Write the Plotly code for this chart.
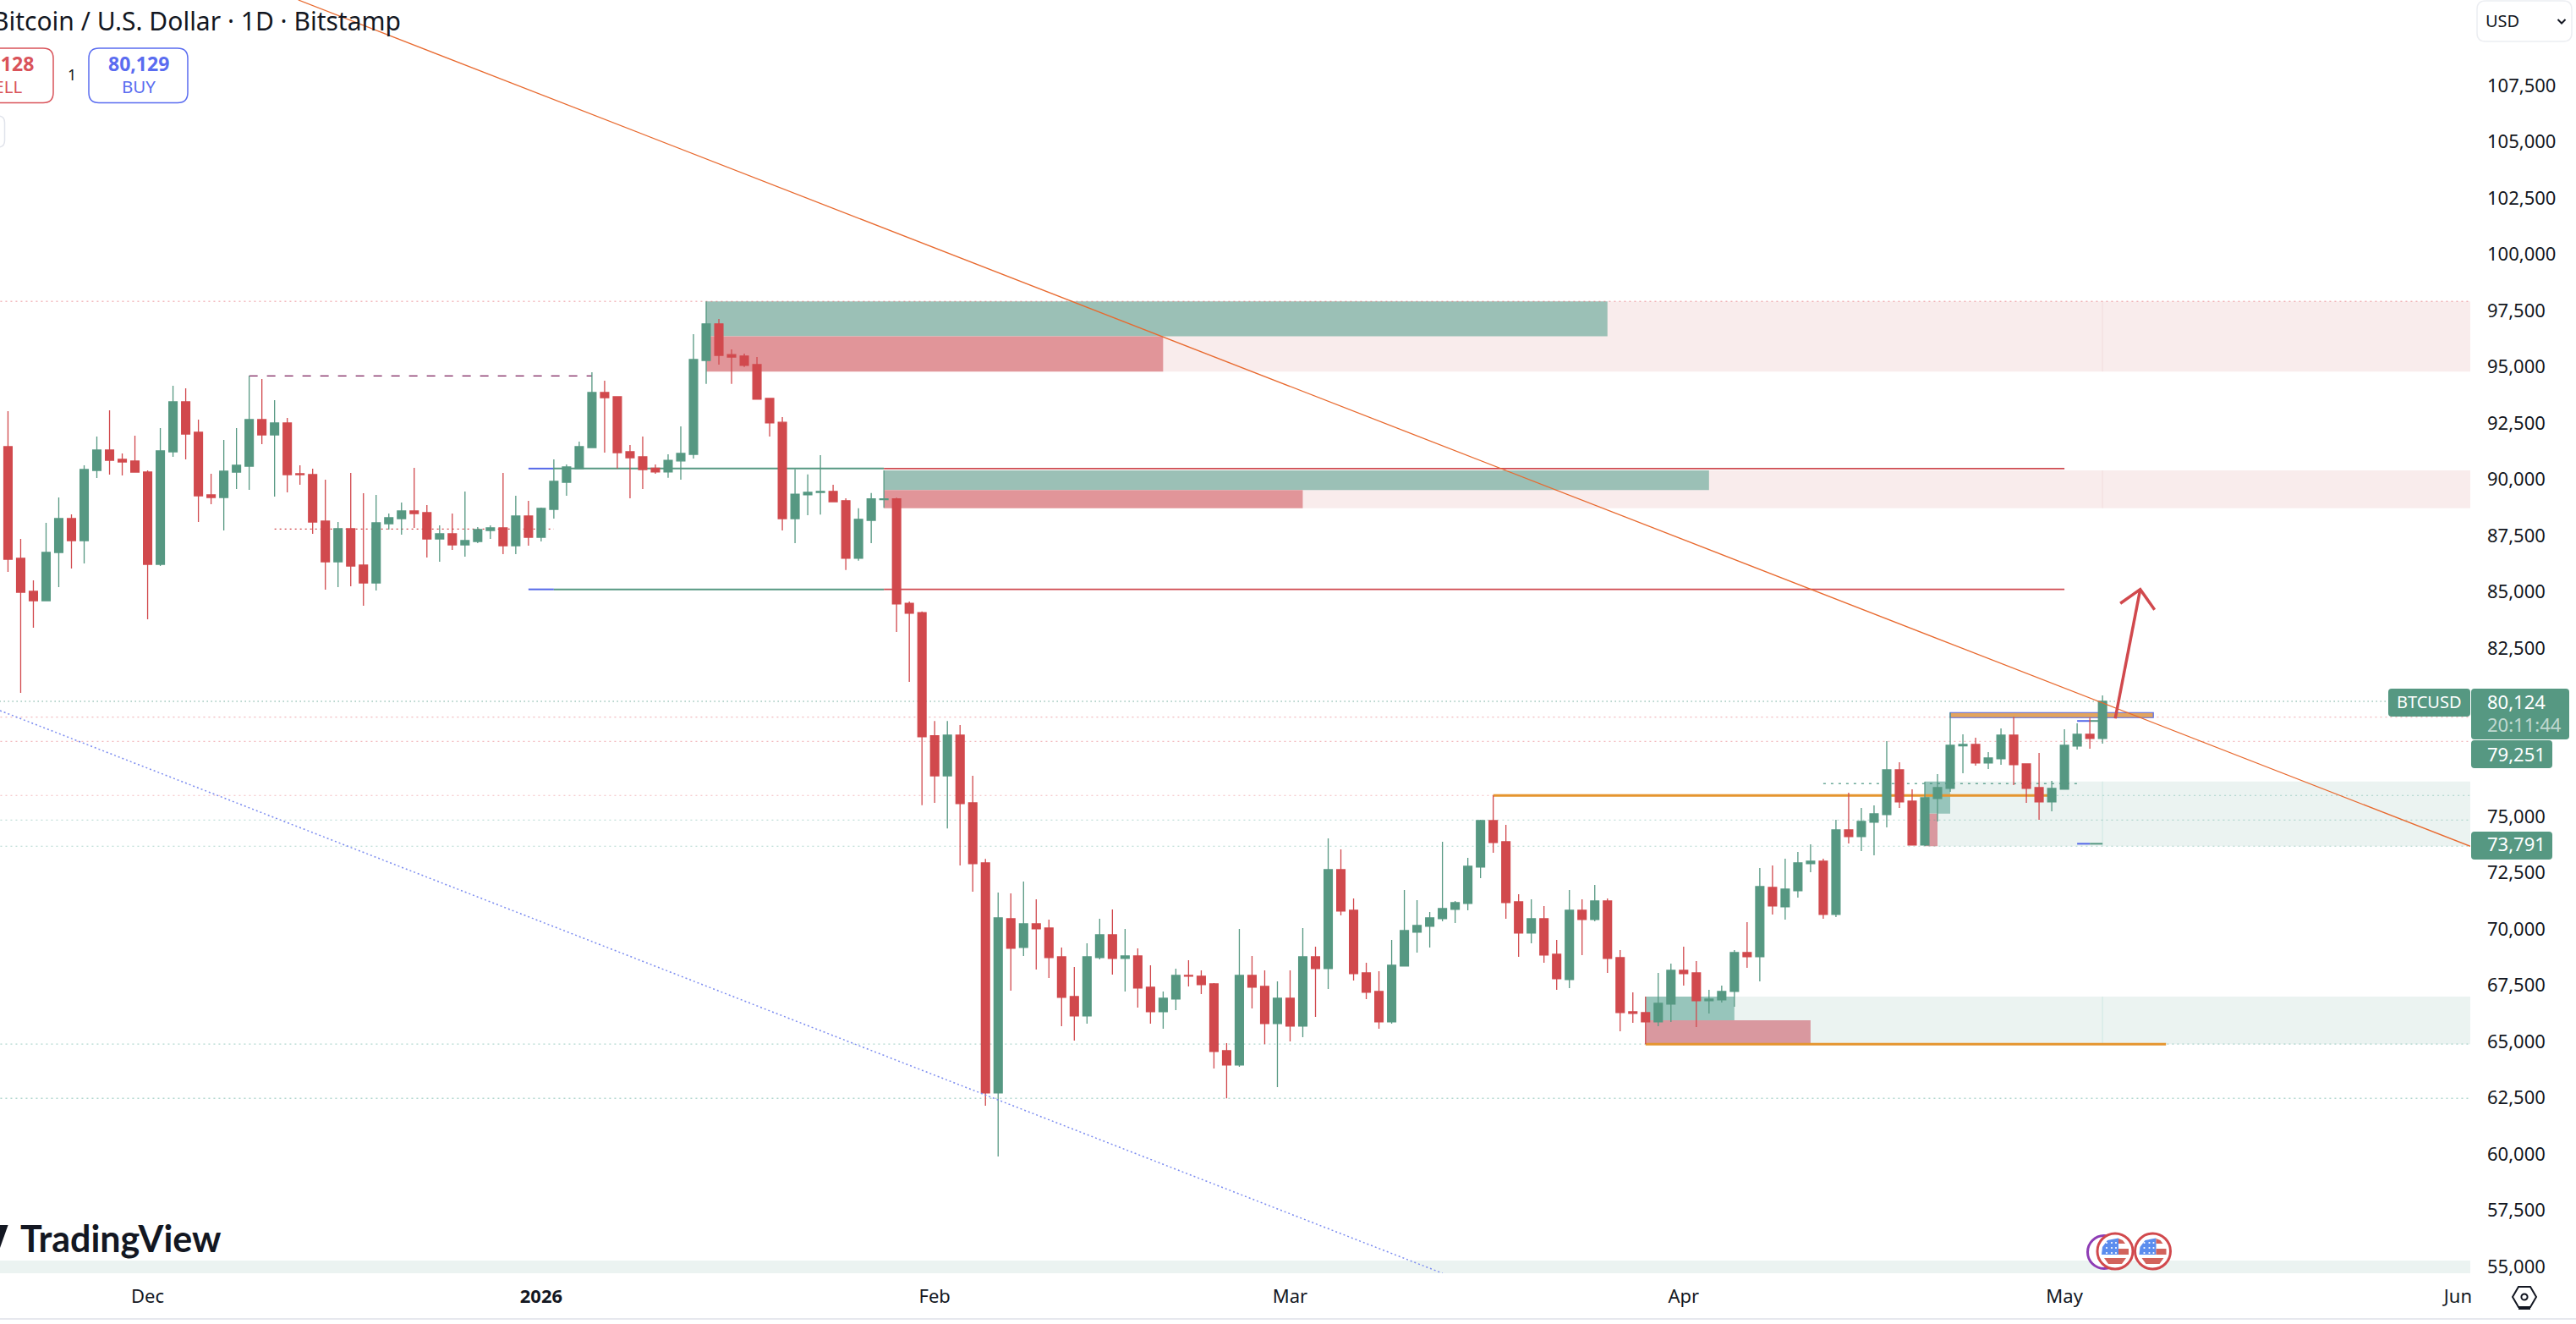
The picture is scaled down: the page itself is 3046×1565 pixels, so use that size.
import pandas as pd
import plotly.graph_objects as go

# Daily BTC/USD candles, first session 2025-11-20
first_session = "2025-11-20"
opens = [
    91447, 86482, 85014, 84601, 86745, 88250, 87272, 90394, 91297, 90883,
    90808, 90319, 86218, 91222, 93441, 92087, 89303, 89190, 90319, 90582,
    92651, 91974, 92501, 90244, 90206, 88137, 86331, 87798, 86181, 85391,
    88024, 88250, 88588, 88513, 87347, 87573, 87084, 87234, 87723, 87836,
    87046, 88363, 87422, 88664, 89867, 90469, 91410, 93855, 93667, 91222,
    90996, 90491, 90322, 90813, 91105, 95281, 96909, 95542, 95481, 95097,
    93592, 92533, 88249, 89308, 89416, 89462, 89047, 86483, 88172, 89093,
    89124, 84487, 84073, 78591, 76810, 78622, 75613, 72941, 62709, 70458,
    69179, 70233, 70044, 68766, 66998, 66132, 68728, 69744, 68690, 68803,
    67411, 66320, 66885, 67938, 67900, 67562, 64590, 63951, 67938, 67449,
    65794, 66922, 65681, 68766, 68239, 72640, 70834, 68051, 67223, 65869,
    68352, 69856, 70120, 70458, 70872, 71135, 72753, 74822, 73881, 71211,
    69819, 70458, 68878, 67750, 70834, 70421, 71248, 68728, 66320, 66283,
    65869, 66659, 68164, 68051, 66809, 66847, 67223, 68954, 68765, 71850,
    70985, 71700, 72903, 73016, 70646, 74408, 74107, 74747, 75085, 77079,
    75687, 73731, 75800, 76251, 78145, 78207, 77380, 77568, 78621, 77342,
    76289, 75649, 76214, 78132, 78659, 78471,
]
highs = [
    93027, 87347, 85503, 88062, 89190, 88438, 90620, 91899, 93065, 91146,
    91936, 90394, 92275, 94156, 94043, 92651, 90244, 91748, 92275, 94595,
    94457, 93517, 92727, 90620, 90469, 89980, 88099, 90281, 89378, 89303,
    88475, 88965, 90507, 88852, 87949, 88475, 89454, 87874, 87949, 90281,
    89265, 89040, 88739, 90883, 90657, 91673, 94758, 94382, 93667, 91523,
    91899, 90659, 91105, 92348, 96448, 97908, 97129, 95772, 95588, 95435,
    93592, 92763, 90444, 90214, 91074, 89754, 89155, 88709, 89385, 90398,
    89185, 84564, 84119, 79251, 79251, 79067, 76810, 73117, 71624, 71587,
    72113, 71323, 70421, 69179, 68314, 69367, 70458, 70872, 70007, 69142,
    68389, 67223, 68239, 68615, 68164, 67599, 64929, 70007, 68803, 68164,
    67675, 68164, 70045, 69217, 74032, 73543, 71361, 68502, 68126, 69518,
    71737, 71286, 70759, 73881, 71248, 73167, 74860, 75939, 74634, 71549,
    71323, 71023, 69518, 71737, 71323, 71963, 71361, 69066, 67186, 66997,
    68051, 68465, 69217, 68577, 67298, 67486, 69066, 70308, 72715, 72828,
    73129, 73430, 73769, 73129, 74859, 76063, 75386, 75499, 78357, 77418,
    76214, 76552, 76891, 79624, 78659, 78508, 77869, 78922, 79424, 77342,
    77831, 76590, 78884, 79148, 79399, 80389,
]
lows = [
    85880, 80500, 83397, 84601, 85203, 86030, 86256, 90055, 90206, 90168,
    90319, 83773, 86143, 90996, 90883, 88099, 88889, 87723, 89566, 89529,
    91560, 89228, 89416, 89755, 87573, 85090, 85203, 85240, 84375, 85052,
    87761, 87535, 87836, 86519, 86331, 86858, 86557, 87159, 87347, 86670,
    86670, 87046, 87234, 88250, 89265, 90469, 91410, 91184, 90469, 89153,
    89566, 90245, 90061, 89984, 90920, 94237, 95097, 94237, 94989, 93561,
    91903, 87727, 87159, 88402, 88433, 89001, 85961, 86376, 87159, 88725,
    83213, 80986, 75505, 75613, 74476, 72828, 71662, 62145, 59888, 67261,
    68803, 68201, 67825, 65681, 65041, 65794, 68653, 67976, 67223, 66508,
    65794, 65568, 66396, 67449, 67110, 63800, 62471, 63875, 66471, 64878,
    62972, 65004, 65192, 66095, 67336, 70609, 67712, 66885, 65568, 65794,
    68352, 68954, 69179, 70345, 70270, 70834, 72264, 73392, 70458, 68766,
    69367, 68502, 67298, 67374, 68841, 70345, 68051, 65455, 65831, 64878,
    65681, 65869, 67486, 65643, 66245, 66734, 66546, 68276, 67675, 70646,
    70421, 71399, 72527, 70455, 70534, 73806, 73468, 73280, 74521, 75386,
    73731, 73693, 74784, 76101, 76928, 77267, 77116, 77304, 76402, 75612,
    74859, 75236, 76214, 77982, 78019, 78245,
]
closes = [
    86444, 84977, 84601, 86745, 88250, 87272, 90432, 91297, 90846, 90770,
    90319, 86218, 91259, 93441, 92012, 89265, 89190, 90356, 90620, 92651,
    91974, 92501, 90206, 90206, 88099, 86331, 87798, 86143, 85391, 88062,
    88287, 88588, 88475, 87347, 87573, 87084, 87272, 87761, 87836, 87046,
    88363, 87422, 88701, 89905, 90545, 91447, 93855, 93629, 91184, 90958,
    90432, 90322, 90844, 91151, 95327, 96909, 95511, 95435, 95066, 93561,
    92502, 88249, 89339, 89416, 89462, 89001, 86483, 88218, 89124, 89124,
    84456, 84042, 78545, 76810, 78622, 75582, 72903, 62709, 70496, 69142,
    70233, 70007, 68728, 66960, 66132, 68766, 69744, 68690, 68803, 67374,
    66320, 66922, 67938, 67900, 67524, 64552, 63951, 67938, 67411, 65794,
    66922, 65681, 68766, 68239, 72640, 70797, 68013, 67186, 65869, 68389,
    69932, 70157, 70496, 70910, 71173, 72791, 74822, 73844, 71173, 69819,
    70458, 68841, 67788, 70834, 70421, 71248, 68690, 66283, 66245, 65869,
    66697, 68164, 68013, 66809, 66885, 67223, 68954, 68765, 71888, 71023,
    71775, 72941, 73016, 70646, 74408, 74107, 74784, 75123, 77079, 75649,
    73731, 75838, 76289, 78170, 78207, 77380, 77605, 78621, 77304, 76251,
    75649, 76251, 78170, 78659, 78471, 80124,
]

# Axis labels; the two levels covered by the price tags are left out
price_ticks = [55000, 57500, 60000, 62500, 65000, 67500, 70000, 72500, 75000,
               82500, 85000, 87500, 90000, 92500, 95000, 97500, 100000, 102500, 105000, 107500]
month_ticks = ["2025-12-01", "2026-01-01", "2026-02-01", "2026-03-01", "2026-04-01", "2026-05-01", "2026-06-01"]
month_labels = ["Dec", "<b>2026</b>", "Feb", "Mar", "Apr", "May", "Jun"]

# Supply/demand zones: start bar, end bar, upper price, lower price, fill
pale_red = "#F9ECEC"
pale_green = "#EBF3F1"
block_green = "#9BC0B6"
block_green2 = "#97C5BB"
block_red = "#E19599"
block_red2 = "#D9989F"
zones = [
    (91, 195, 97908, 94789, pale_red),
    (55, 126, 97908, 96354, block_green),
    (55, 91, 96354, 94789, block_red),
    (102, 195, 90399, 88710, pale_red),
    (69, 134, 90399, 89523, block_green),
    (69, 102, 89523, 88710, block_red),
    (136, 195, 66997, 64880, pale_green),
    (129, 136, 66997, 65944, block_green2),
    (129, 142, 65944, 64880, block_red2),
    (152, 195, 76560, 73681, pale_green),
    (151, 153, 76560, 75130, block_green2),
    (151, 152, 75130, 73681, block_red2),
    (-1, 195, 55260, 54000, pale_green),
]

# Dotted horizontal levels: price, start bar, end bar, colour, width
pink = "rgba(226,90,100,0.42)"
teal = "rgba(70,160,140,0.42)"
levels = [
    (97908, -1, 195, pink, 1.3),
    (79424, -1, 195, pink, 1.3),
    (78345, -1, 195, pink, 1.3),
    (75939, -1, 161, pink, 1),
    (75939, 161, 195, teal, 1),
    (74846, -1, 195, teal, 1),
    (73681, -1, 195, teal, 1),
    (64880, -1, 195, teal, 1.3),
    (62471, -1, 195, teal, 1.3),
]
last_price = 80124
last_price_color = "rgba(63,143,122,0.75)"

# Target lines: price, blue end bar, green end bar, red end bar
tri_lines = [(90475, 43, 69, 162), (85103, 43, 69, 162)]
tri_start = 41
short_lines = [79251, 73791]
tag_stack_shift = {79251: 39, 73791: 0}

green = "#569882"
red = "#D1494D"
orange = "#E5952F"
blue = "#5468E8"
ink = "#131722"

W, H = 3046, 1565
PLOT_W, PLOT_H = 2921, 1505
bar0 = pd.Timestamp(first_session)


def day(k):
    return bar0 + pd.Timedelta(days=k)


def X(px):
    return px / PLOT_W


def Y(py):
    return 1 - py / PLOT_H


dates = [day(i) for i in range(len(opens))]

fig = go.Figure()
fig.add_trace(go.Candlestick(
    x=dates, open=opens, high=highs, low=lows, close=closes,
    increasing=dict(line=dict(color=green, width=1.3), fillcolor=green),
    decreasing=dict(line=dict(color=red, width=1.3), fillcolor=red),
    whiskerwidth=0, showlegend=False, hoverinfo="skip",
))

# Descending trend lines and the projected move
trend_orange = ([22.87, 193.97], [111311, 73681])
trend_blue = ([-0.63, 113.0], [79712, 54693])
arrow_path = ([166.0, 167.97], [79362, 85103])
arrow_head = ([166.4, 167.97, 169.1], [84478, 85103, 84200])

fig.add_trace(go.Scatter(x=[day(k) for k in trend_blue[0]], y=trend_blue[1], mode="lines",
                         line=dict(color="#7C8CF0", width=1.5, dash="2px,3px"),
                         showlegend=False, hoverinfo="skip"))
fig.add_trace(go.Scatter(x=[day(k) for k in trend_orange[0]], y=trend_orange[1], mode="lines",
                         line=dict(color="#E8692E", width=1.3),
                         showlegend=False, hoverinfo="skip"))
for xs, ys in (arrow_path, arrow_head):
    fig.add_trace(go.Scatter(x=[day(k) for k in xs], y=ys, mode="lines",
                             line=dict(color=red, width=3.5),
                             showlegend=False, hoverinfo="skip"))

shapes = []


def data_rect(k0, k1, p0, p1, fill, **line):
    shapes.append(dict(type="rect", xref="x", yref="y", x0=day(k0), x1=day(k1), y0=p0, y1=p1,
                       fillcolor=fill, line=line or dict(width=0), layer="below"))


def data_line(k0, k1, p, color, width, dash="solid"):
    shapes.append(dict(type="line", xref="x", yref="y", x0=day(k0), x1=day(k1), y0=p, y1=p,
                       line=dict(color=color, width=width, dash=dash), layer="below"))


for k0, k1, p0, p1, fill in zones:
    data_rect(k0, k1, p0, p1, fill)

# Faint session marker through the open zones
for p0, p1, c in [(97908, 94789, "rgba(200,120,120,0.12)"), (90399, 88710, "rgba(200,120,120,0.12)"),
                  (76560, 73681, "rgba(8,153,129,0.12)"), (66997, 64880, "rgba(8,153,129,0.12)")]:
    shapes.append(dict(type="line", xref="x", yref="y", x0=day(165), x1=day(165), y0=p0, y1=p1,
                       line=dict(color=c, width=1), layer="below"))

for p, k0, k1, color, width in levels:
    data_line(k0, k1, p, color, width, "2px,4px")
data_line(-1, 195, last_price, last_price_color, 1, "1.5px,3.5px")

# Swing markers
data_line(19, 46, 94594, "#7B1E5A", 1.3, "10px,11px")
data_line(21, 43, 87788, red, 1.3, "2px,4px")
data_line(143, 163, 76466, last_price_color, 1.3, "3px,6px")

# Orange range lines
data_line(117, 161, 75939, orange, 3)
data_line(129, 170, 64880, orange, 3)

for p, k_blue, k_green, k_red in tri_lines:
    data_line(tri_start, k_blue, p, blue, 2)
    data_line(k_blue, k_green, p, green, 2)
    data_line(k_green, k_red, p, "#CF4A50", 1.8)

for p in short_lines:
    data_line(163, 164, p, blue, 2)
    data_line(164, 165, p, green, 2)

data_rect(153, 169, 79625, 79400, "#E2A45F", color=blue, width=1.2)


def round_box(x0, y0, x1, y1, r):
    xs = lambda v: f"{X(v):.6f}"
    ys = lambda v: f"{Y(v):.6f}"
    return (f"M {xs(x0 + r)} {ys(y0)} L {xs(x1 - r)} {ys(y0)} Q {xs(x1)} {ys(y0)} {xs(x1)} {ys(y0 + r)} "
            f"L {xs(x1)} {ys(y1 - r)} Q {xs(x1)} {ys(y1)} {xs(x1 - r)} {ys(y1)} "
            f"L {xs(x0 + r)} {ys(y1)} Q {xs(x0)} {ys(y1)} {xs(x0)} {ys(y1 - r)} "
            f"L {xs(x0)} {ys(y0 + r)} Q {xs(x0)} {ys(y0)} {xs(x0 + r)} {ys(y0)} Z")


def ui_path(path, fill="rgba(0,0,0,0)", color="rgba(0,0,0,0)", width=0):
    shapes.append(dict(type="path", xref="paper", yref="paper", path=path, fillcolor=fill,
                       line=dict(color=color, width=width), layer="above"))


def poly(points, close=True):
    s = " L ".join(f"{X(a):.6f} {Y(b):.6f}" for a, b in points)
    return "M " + s + (" Z" if close else "")


def ui_circle(cx, cy, r, fill, color, width):
    shapes.append(dict(type="circle", xref="paper", yref="paper",
                       x0=X(cx - r), x1=X(cx + r), y0=Y(cy - r), y1=Y(cy + r),
                       fillcolor=fill, line=dict(color=color, width=width), layer="above"))


# Order buttons
ui_path(round_box(-20, 57, 63, 121.5, 12), "white", "#D9535A", 1.5)
ui_path(round_box(105, 57, 222, 121.5, 12), "white", "#5A6CF0", 1.5)
ui_path(round_box(-20, 137, 5.5, 174, 8), "white", "#E0E3EB", 1.5)

# Currency selector
ui_path(round_box(2929, 1, 3041, 49, 10), "white", "#ECEEF2", 1.5)
ui_path(poly([(3024.5, 23), (3029, 27.5), (3033.5, 23)], close=False), color=ink, width=2)

# Price tags on the scale
ui_path(round_box(2824, 814, 2921, 847, 4), green)
ui_path(round_box(2922, 814, 3038, 874, 4), green)
ui_path(round_box(2922, 875, 3018, 908, 4), green)
ui_path(round_box(2922, 983, 3018, 1016, 4), green)

# Watermark logo tip
ui_path(poly([(0, 1448), (9.6, 1448), (0, 1475)]), ink)

# Scale settings icon and footer rule
ui_path(poly([(2971, 1533), (2978, 1521), (2992, 1521), (2999, 1533), (2992, 1545), (2978, 1545)]),
        "white", ink, 2)
ui_path(poly([(2978, 1547), (2992, 1547)], close=False), color=ink, width=2)
ui_circle(2985, 1533, 3.6, "white", ink, 2)
ui_path(poly([(0, 1559), (3046, 1559)], close=False), color="#E6E8EE", width=2)


# Economic event badges
def us_flag(cx, cy):
    ui_circle(cx, cy, 21, "white", "#D1494D", 3)
    ui_path(poly([(cx - 15, cy - 5), (cx - 9, cy - 13), (cx + 4, cy - 15.5), (cx + 4, cy + 4), (cx - 16, cy + 4)]),
            "#5B8DEE")
    ui_path(poly([(cx + 4, cy - 15), (cx + 9, cy - 13), (cx + 12, cy - 9), (cx + 4, cy - 9)]), "#D2635C")
    ui_path(poly([(cx + 4, cy - 3), (cx + 16, cy - 3), (cx + 16, cy + 4), (cx + 4, cy + 4)]), "#D2635C")
    ui_path(poly([(cx - 13, cy + 8), (cx + 13, cy + 8), (cx + 8, cy + 15), (cx - 8, cy + 15)]), "#D2635C")
    for dy in (-10, -4, 2):
        for dx in (-10, -4, 1):
            ui_circle(cx + dx, cy + dy, 1.1, "white", "white", 0)


ui_circle(2488, 1480, 19.5, "white", "#8E3DB5", 3)
us_flag(2501, 1479)
us_flag(2545.5, 1479)

annotations = []


def label(text, px, py, size, color=ink, anchor="center", family="Noto Sans"):
    annotations.append(dict(text=text, xref="paper", yref="paper", x=X(px), y=Y(py),
                            xanchor=anchor, yanchor="middle", showarrow=False,
                            font=dict(family=family, size=size, color=color)))


label("Bitcoin / U.S. Dollar · 1D · Bitstamp", 476, 24, 30, anchor="right")
label("<b>80,128</b>", 4, 75, 23, "#D9535A")
label("SELL", 4, 102, 20.5, "#D9535A")
label("1", 85, 88, 18)
label("<b>80,129</b>", 164, 75, 23, "#5A6CF0")
label("BUY", 164, 102, 20.5, "#5A6CF0")
label("USD", 2937, 25, 20, anchor="left")
label("<b>TradingView</b>", 143, 1463, 43, family="Lato")

# Price tag texts, stacked below the levels they belong to
annotations.append(dict(text="BTCUSD", xref="paper", yref="y", x=X(2872.5), y=last_price, xanchor="center",
                        yanchor="middle", showarrow=False,
                        font=dict(family="Noto Sans", size=20, color="white")))
annotations.append(dict(text=f"{last_price:,}", xref="paper", yref="y", x=X(2939), y=last_price, xanchor="left",
                        yanchor="middle", showarrow=False,
                        font=dict(family="Noto Sans", size=22, color="white")))
annotations.append(dict(text="20:11:44", xref="paper", yref="y", x=X(2939), y=last_price, yshift=-27,
                        xanchor="left", yanchor="middle", showarrow=False,
                        font=dict(family="Noto Sans", size=22, color="rgba(255,255,255,0.65)")))
for p in short_lines:
    annotations.append(dict(text=f"{p:,}", xref="paper", yref="y", x=X(2939), y=p, yshift=-tag_stack_shift[p],
                            xanchor="left", yanchor="middle", showarrow=False,
                            font=dict(family="Noto Sans", size=22, color="white")))

fig.update_layout(
    width=W, height=H, autosize=False,
    margin=dict(l=0, r=W - PLOT_W, t=0, b=H - PLOT_H, pad=0),
    paper_bgcolor="white", plot_bgcolor="white",
    boxgap=0.07, showlegend=False,
    shapes=shapes, annotations=annotations,
    xaxis=dict(
        type="date", range=[day(-0.6296), day(193.97)], rangeslider=dict(visible=False),
        showgrid=False, zeroline=False, showline=False,
        tickmode="array", tickvals=month_ticks, ticktext=month_labels,
        ticks="", ticklabelstandoff=12,
        tickfont=dict(family="Noto Sans", size=22, color=ink),
    ),
    yaxis=dict(
        side="right", range=[54693, 111311], showgrid=False, zeroline=False, showline=False,
        tickmode="array", tickvals=price_ticks, tickformat=",d",
        ticks="", ticklabelstandoff=19,
        tickfont=dict(family="Noto Sans", size=22, color=ink),
    ),
)

fig.write_html("out.html", config=dict(displayModeBar=False))
